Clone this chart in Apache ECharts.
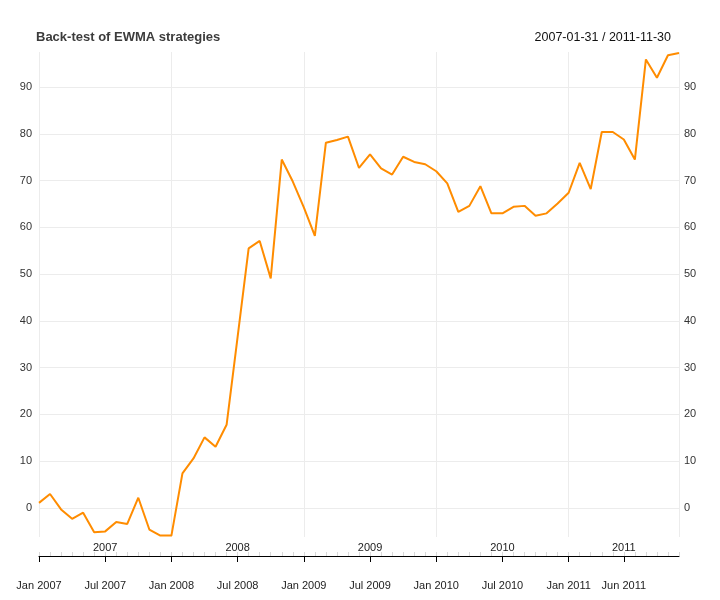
<!DOCTYPE html>
<html>
<head>
<meta charset="utf-8">
<script src="https://cdn.jsdelivr.net/npm/echarts@6/dist/echarts.min.js"></script>
<style>
  html, body { margin: 0; padding: 0; background: #fff; }
  #chart { width: 720px; height: 600px; }
</style>
</head>
<body>
<div id="chart"></div>
<script>
// month-end observations, 2007-01-31 .. 2011-11-30
var months = [
  '2007-01', '2007-02', '2007-03', '2007-04', '2007-05', '2007-06', '2007-07', '2007-08', '2007-09', '2007-10', '2007-11', '2007-12',
  '2008-01', '2008-02', '2008-03', '2008-04', '2008-05', '2008-06', '2008-07', '2008-08', '2008-09', '2008-10', '2008-11', '2008-12',
  '2009-01', '2009-02', '2009-03', '2009-04', '2009-05', '2009-06', '2009-07', '2009-08', '2009-09', '2009-10', '2009-11', '2009-12',
  '2010-01', '2010-02', '2010-03', '2010-04', '2010-05', '2010-06', '2010-07', '2010-08', '2010-09', '2010-10', '2010-11', '2010-12',
  '2011-01', '2011-02', '2011-03', '2011-04', '2011-05', '2011-06', '2011-07', '2011-08', '2011-09', '2011-10', '2011-11'
];
var equity = [
  1.1, 3.0, -0.3, -2.3, -1.0, -5.2, -5.0, -3.0, -3.4, 2.2, -4.6, -5.9,
  -5.9, 7.4, 10.6, 15.1, 13.1, 17.8, 36.6, 55.5, 57.1, 49.1, 74.5, 69.8,
  64.3, 58.2, 78.1, 78.7, 79.4, 72.7, 75.6, 72.6, 71.3, 75.1, 74.0, 73.5,
  72.0, 69.4, 63.3, 64.6, 68.8, 63.0, 63.0, 64.4, 64.6, 62.5, 63.0, 65.1,
  67.4, 73.8, 68.2, 80.4, 80.4, 78.8, 74.5, 95.9, 92.0, 96.8, 97.3
];
var yTicks = [0, 10, 20, 30, 40, 50, 60, 70, 80, 90];
var monthTicks = ['2007-01', '2007-07', '2008-01', '2008-07', '2009-01', '2009-07', '2010-01', '2010-07', '2011-01', '2011-06'];
var monthTickLabels = ['Jan 2007', 'Jul 2007', 'Jan 2008', 'Jul 2008', 'Jan 2009', 'Jul 2009', 'Jan 2010', 'Jul 2010', 'Jan 2011', 'Jun 2011'];
var yearTicks = ['2007-07', '2008-07', '2009-07', '2010-07', '2011-06'];
var yearTickLabels = ['2007', '2008', '2009', '2010', '2011'];
var gridMonths = ['2007-01', '2008-01', '2009-01', '2010-01', '2011-01', '2011-11'];

var font = 'Liberation Sans';
var chart = echarts.init(document.getElementById('chart'));

var yAxisBase = {
  type: 'value',
  min: -6.2,
  max: 97.5,
  axisLine: { show: false },
  axisTick: { show: false, customValues: yTicks },
  axisLabel: { customValues: yTicks, color: '#333', fontSize: 11, fontFamily: font }
};

var option = {
  animation: false,
  title: [
    {
      text: 'Back-test of EWMA strategies',
      left: 36, top: 31, padding: 0,
      textStyle: { fontSize: 13, fontWeight: 'bold', color: '#3c3c3c', fontFamily: font }
    },
    {
      text: '2007-01-31 / 2011-11-30',
      right: 49, top: 31, padding: 0,
      textStyle: { fontSize: 12.5, fontWeight: 'normal', color: '#111', fontFamily: font }
    }
  ],
  grid: { left: 39, right: 41, top: 52, bottom: 63, containLabel: false },
  xAxis: [
    {
      type: 'category',
      data: months,
      boundaryGap: false,
      position: 'bottom',
      offset: 19,
      axisLine: { onZero: false, lineStyle: { color: '#000', width: 1 } },
      axisTick: {
        inside: false, length: 6, lineStyle: { color: '#000' },
        interval: function (i, v) { return monthTicks.indexOf(v) >= 0; }
      },
      axisLabel: {
        margin: 24, color: '#222', fontSize: 11, fontFamily: font,
        interval: function (i, v) { return monthTicks.indexOf(v) >= 0; },
        formatter: function (v) { return monthTickLabels[monthTicks.indexOf(v)]; }
      },
      splitLine: {
        show: true,
        lineStyle: { color: '#ececec', width: 1 },
        interval: function (i, v) { return gridMonths.indexOf(v) >= 0; }
      }
    },
    {
      type: 'category',
      data: months,
      boundaryGap: false,
      position: 'bottom',
      offset: 19,
      axisLine: { show: false, onZero: false },
      axisTick: { inside: true, length: 4, interval: 0, lineStyle: { color: '#d9d9d9' } },
      axisLabel: {
        inside: true, margin: 3, color: '#222', fontSize: 11, fontFamily: font,
        interval: function (i, v) { return yearTicks.indexOf(v) >= 0; },
        formatter: function (v) { return yearTickLabels[yearTicks.indexOf(v)]; }
      },
      splitLine: { show: false }
    }
  ],
  yAxis: [
    Object.assign({}, yAxisBase, {
      position: 'left',
      axisLabel: Object.assign({}, yAxisBase.axisLabel, { margin: 7 }),
      splitLine: { show: true, lineStyle: { color: '#ececec', width: 1 } }
    }),
    Object.assign({}, yAxisBase, {
      position: 'right',
      axisLabel: Object.assign({}, yAxisBase.axisLabel, { margin: 5 }),
      splitLine: { show: false }
    })
  ],
  series: [
    {
      name: 'EWMA',
      type: 'line',
      data: equity,
      xAxisIndex: 0,
      yAxisIndex: 0,
      symbol: 'none',
      lineStyle: { color: '#ff8c00', width: 2 }
    }
  ]
};
chart.setOption(option);
</script>
</body>
</html>
